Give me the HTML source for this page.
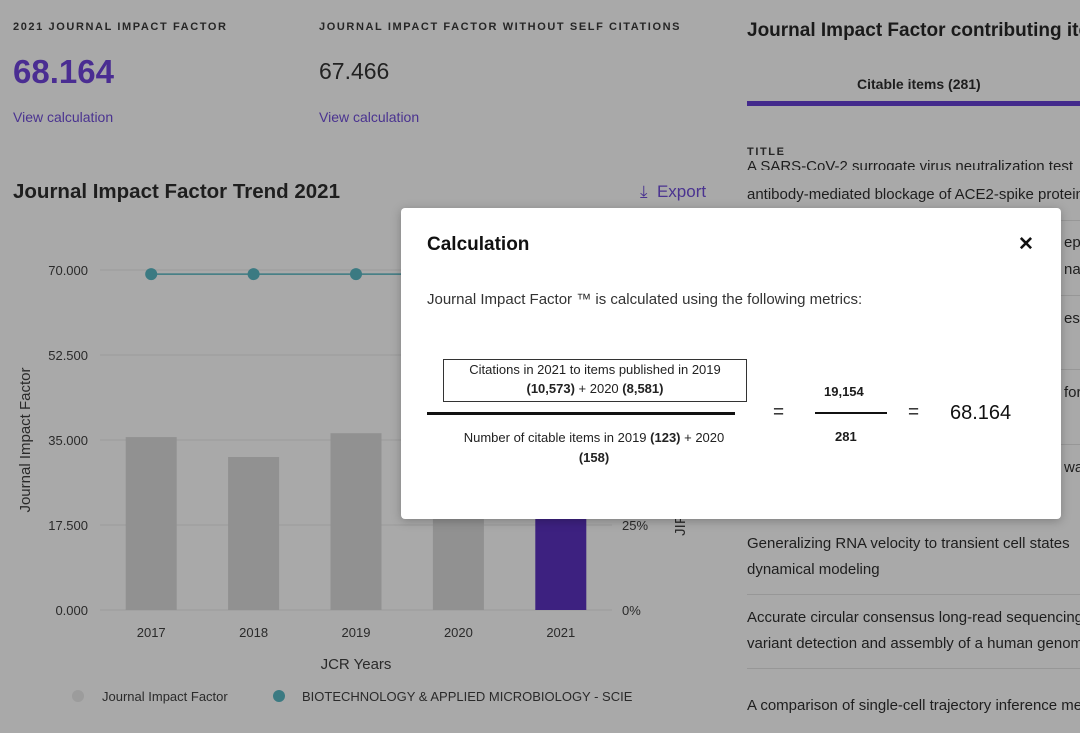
<!DOCTYPE html>
<html><head><meta charset="utf-8"><style>
body{margin:0;width:1080px;height:733px;overflow:hidden;background:#a9a9a9;font-family:"Liberation Sans",sans-serif;color:#1c1c1c;position:relative}
.a{position:absolute;white-space:nowrap}
.cap{font-size:11px;letter-spacing:1.6px;font-weight:bold;color:#262626}
.link{font-size:14px;color:#4a3390}
.row{font-size:15px;color:#1e1e1e}
.sep{position:absolute;left:747px;width:333px;height:1px;background:#979797}
</style></head><body>
<div class="a cap" style="left:13px;top:21px">2021 JOURNAL IMPACT FACTOR</div>
<div class="a" style="left:13px;top:53px;font-size:33px;font-weight:bold;color:#4a2d92">68.164</div>
<div class="a link" style="left:13px;top:109px">View calculation</div>
<div class="a cap" style="left:319px;top:21px">JOURNAL IMPACT FACTOR WITHOUT SELF CITATIONS</div>
<div class="a" style="left:319px;top:58px;font-size:23px;color:#222">67.466</div>
<div class="a link" style="left:319px;top:109px">View calculation</div>

<div class="a" style="left:13px;top:180px;font-size:20.5px;font-weight:bold;color:#1e1e1e">Journal Impact Factor Trend 2021</div>
<div class="a" style="left:640px;top:182px;font-size:17px;color:#4a3390">&#x2913;&nbsp; Export</div>

<svg class="a" style="left:0;top:0" width="720" height="733" id="chart"></svg>

<div class="a" style="left:747px;top:20px;font-size:19px;font-weight:bold;color:#1a1a1a">Journal Impact Factor contributing items</div>
<div class="a" style="left:857px;top:76px;font-size:14px;font-weight:bold;color:#1e1e1e">Citable items (281)</div>
<div class="a" style="left:747px;top:101px;width:333px;height:5px;background:#432a8c"></div>
<div class="a cap" style="left:747px;top:146px">TITLE</div>
<div class="a row" style="left:747px;height:14px;overflow:hidden;line-height:22px;top:156px">A SARS-CoV-2 surrogate virus neutralization test</div>
<div class="a row" style="left:747px;top:186px">antibody-mediated blockage of ACE2-spike protein</div>
<div class="sep" style="top:220px"></div>
<div class="a row" style="left:1064px;top:234px">epit</div>
<div class="a row" style="left:1064px;top:261px">na</div>
<div class="sep" style="top:295px"></div>
<div class="a row" style="left:1064px;top:310px">es,</div>
<div class="sep" style="top:369px"></div>
<div class="a row" style="left:1064px;top:384px">for</div>
<div class="sep" style="top:444px"></div>
<div class="a row" style="left:1064px;top:459px">wa</div>
<div class="a row" style="left:747px;top:535px">Generalizing RNA velocity to transient cell states</div>
<div class="a row" style="left:747px;top:561px">dynamical modeling</div>
<div class="sep" style="top:594px"></div>
<div class="a row" style="left:747px;top:609px">Accurate circular consensus long-read sequencing</div>
<div class="a row" style="left:747px;top:635px">variant detection and assembly of a human genome</div>
<div class="sep" style="top:668px"></div>
<div class="a row" style="left:747px;top:697px">A comparison of single-cell trajectory inference methods</div>

<div class="a" style="left:401px;top:208px;width:660px;height:311px;background:#fff;border-radius:4px;box-shadow:0 2px 10px rgba(0,0,0,.25)">
 <div class="a" style="left:26px;top:26px;font-size:19px;font-weight:bold;color:#111">Calculation</div>
 <div class="a" style="left:617px;top:25px;font-size:19px;font-weight:bold;color:#111">✕</div>
 <div class="a" style="left:26px;top:83px;font-size:15px;color:#333">Journal Impact Factor ™ is calculated using the following metrics:</div>
 <div class="a" style="left:42px;top:151px;width:302px;height:41px;border:1px solid #333;text-align:center;font-size:13px;line-height:19px;color:#222">Citations in 2021 to items published in 2019<br><b>(10,573)</b> + 2020 <b>(8,581)</b></div>
 <div class="a" style="left:26px;top:204px;width:308px;height:3px;background:#111"></div>
 <div class="a" style="left:26px;top:220px;width:334px;text-align:center;font-size:13px;line-height:20px;color:#222">Number of citable items in 2019 <b>(123)</b> + 2020<br><b>(158)</b></div>
 <div class="a" style="left:372px;top:194px;font-size:19px">=</div>
 <div class="a" style="left:423px;top:176px;font-size:13px;font-weight:bold">19,154</div>
 <div class="a" style="left:414px;top:204px;width:72px;height:2px;background:#111"></div>
 <div class="a" style="left:434px;top:221px;font-size:13px;font-weight:bold">281</div>
 <div class="a" style="left:507px;top:194px;font-size:19px">=</div>
 <div class="a" style="left:549px;top:194px;font-size:20px;color:#111">68.164</div>
</div>

<script>
const years=["2017","2018","2019","2020","2021"];
const jifValues=[35.6,31.5,36.4,33.0,68.164];
const categoryPercentile=[98.8,98.8,98.8,98.8,98.8];
const yTicks=[0,17.5,35,52.5,70];
const yTickLabels=["0.000","17.500","35.000","52.500","70.000"];
const rTicks=[0,25];
const rTickLabels=["0%","25%"];
const svg=document.getElementById('chart');
const NS="http://www.w3.org/2000/svg";
const x0=100,x1=612,yb=610,yt=270;
const y=v=>yb-(v/70)*(yb-yt);
const yr=p=>yb-(p/100)*(yb-yt);
const bw=(x1-x0)/years.length;
const xc=i=>x0+bw*(i+0.5);
function mk(t,a,txt){const e=document.createElementNS(NS,t);for(const k in a)e.setAttribute(k,a[k]);if(txt!=null)e.textContent=txt;svg.appendChild(e);return e;}
yTicks.forEach((v,i)=>{
 const g=mk('line',{x1:x0,x2:x1,y1:y(v),y2:y(v),stroke:'#9a9a9a','stroke-width':1});
 
 
 const t=mk('text',{x:88,y:y(v)+5,'text-anchor':'end','font-size':13,fill:'#2a2a2a'},yTickLabels[i]);
 
 
});
rTicks.forEach((p,i)=>{
 const t=mk('text',{x:622,y:yr(p)+5,'font-size':13,fill:'#2a2a2a'},rTickLabels[i]);
 
 
});
jifValues.forEach((v,i)=>{
 const r=mk('rect',{x:xc(i)-25.5,y:y(v),width:51,height:yb-y(v),fill:i===years.length-1?'#3d2180':'#919191'});
 
 
 const t=mk('text',{x:xc(i),y:637,'text-anchor':'middle','font-size':13,fill:'#2a2a2a'},years[i]);
 
 
});
const pts=categoryPercentile.map((p,i)=>xc(i)+','+yr(p)).join(' ');
const pl=mk('polyline',{points:pts,fill:'none',stroke:'#3b7a82','stroke-width':1.5});


categoryPercentile.forEach((p,i)=>{
 const c=mk('circle',{cx:xc(i),cy:yr(p),r:6,fill:'#3b7a82'});
 
 
});
const yt1=mk('text',{x:0,y:0,transform:'translate(30,440) rotate(-90)','text-anchor':'middle','font-size':15,fill:'#2a2a2a'},'Journal Impact Factor');


const yt2=mk('text',{x:0,y:0,transform:'translate(685,490) rotate(-90)','text-anchor':'middle','font-size':15,fill:'#2a2a2a'},'JIF Percentile');


const xt=mk('text',{x:356,y:669,'text-anchor':'middle','font-size':15,fill:'#2a2a2a'},'JCR Years');


const l1=mk('circle',{cx:78,cy:696,r:6,fill:'#9c9c9c'});


const l1t=mk('text',{x:102,y:701,'font-size':13,fill:'#2a2a2a'},'Journal Impact Factor');


const l2=mk('circle',{cx:279,cy:696,r:6,fill:'#3b7a82'});


const l2t=mk('text',{x:302,y:701,'font-size':13,fill:'#2a2a2a'},'BIOTECHNOLOGY & APPLIED MICROBIOLOGY - SCIE');


</script>
</body></html>
